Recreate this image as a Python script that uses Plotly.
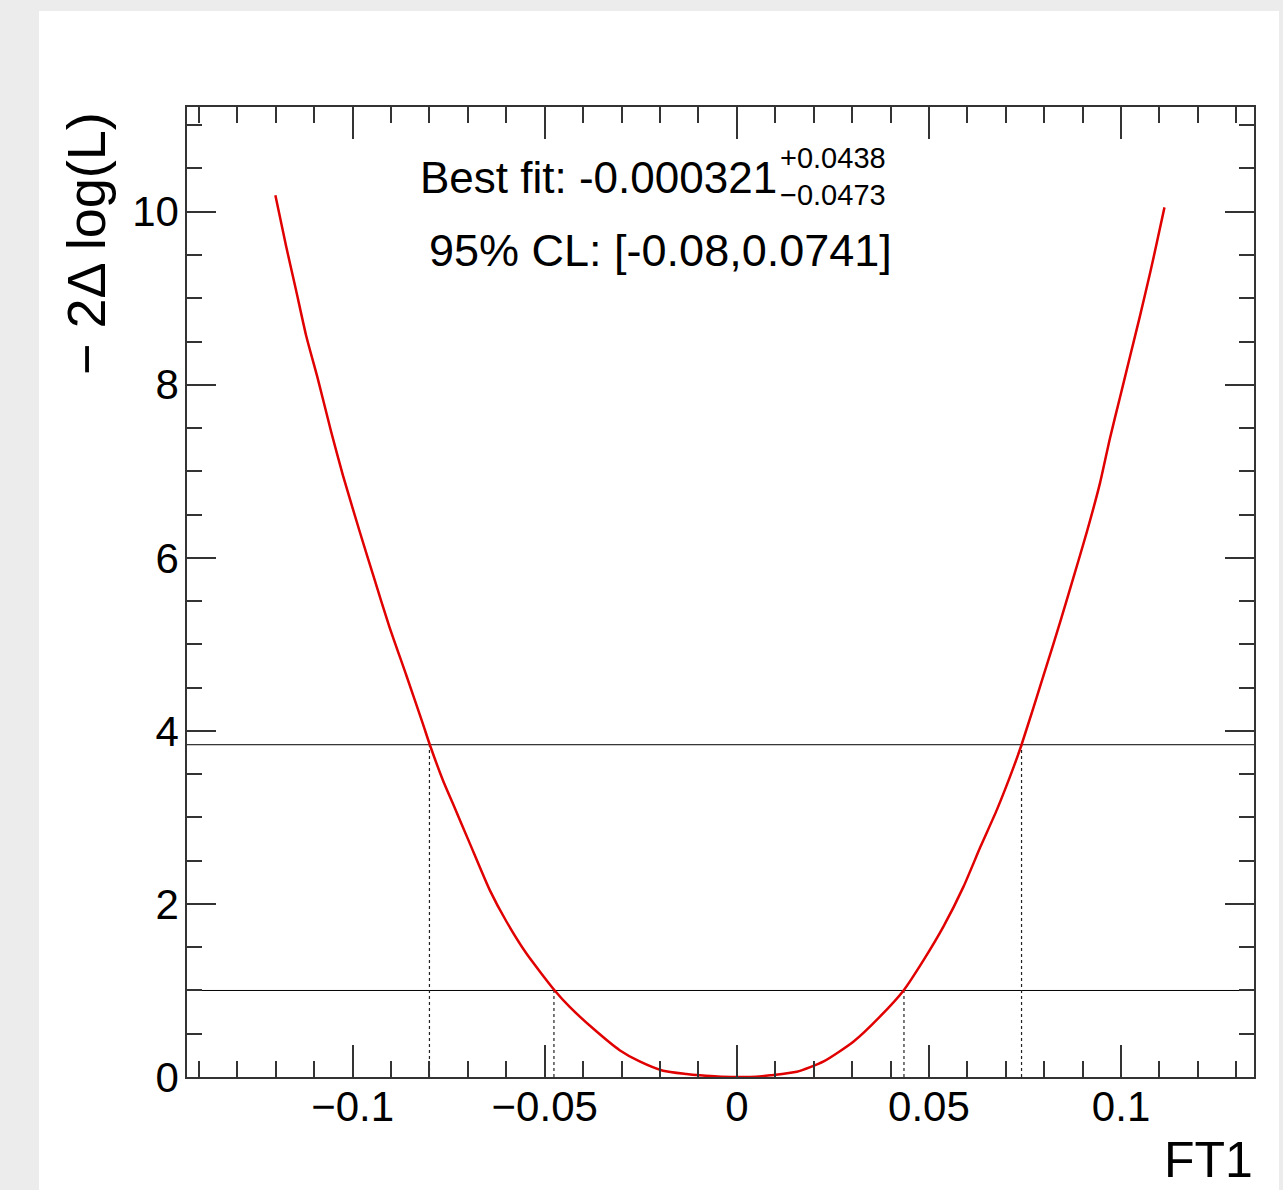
import plotly.graph_objects as go

# likelihood scan
scan_x = [-0.1201, -0.1173, -0.1147, -0.1121, -0.1090, -0.1056, -0.1025, -0.0982,
          -0.0943, -0.0904, -0.0860, -0.0817, -0.0799, -0.0765, -0.0739, -0.0695,
          -0.0643, -0.0600, -0.0548, -0.0474, -0.0435, -0.0374, -0.0305, -0.0253,
          -0.0192, -0.0131, -0.0096, -0.0050, 0.0000, 0.0050, 0.0087, 0.0156,
          0.0226, 0.0304, 0.0373, 0.0434, 0.0486, 0.0538, 0.0590, 0.0634,
          0.0677, 0.0721, 0.0741, 0.0772, 0.0806, 0.0841, 0.0876, 0.0911,
          0.0945, 0.0971, 0.0997, 0.1023, 0.1049, 0.1076, 0.1093, 0.1113]
scan_y = [10.19, 9.60, 9.09, 8.57, 8.06, 7.46, 6.95, 6.31,
          5.75, 5.20, 4.64, 4.08, 3.84, 3.43, 3.16, 2.70,
          2.16, 1.80, 1.43, 1.00, 0.81, 0.56, 0.31, 0.18,
          0.073, 0.035, 0.02, 0.005, 0.0, 0.003, 0.02, 0.061,
          0.18, 0.41, 0.70, 1.00, 1.35, 1.74, 2.20, 2.66,
          3.09, 3.59, 3.84, 4.27, 4.75, 5.25, 5.77, 6.30,
          6.86, 7.38, 7.85, 8.32, 8.79, 9.30, 9.64, 10.05]

cl_levels = [1.0, 3.84]
cl68 = [-0.0476, 0.0435]
cl95 = [-0.0800, 0.0741]

x_range = [-0.1431, 0.1346]
y_range = [0, 11.21]

best_fit = "-0.000321"
err_up = "+0.0438"
err_dn = "\u22120.0473"
cl_text = "95% CL: [-0.08,0.0741]"

W, H = 1283, 1190
L, R, T, B = 187, 1254, 107, 1077
FONT = "Liberation Sans, Arial, Helvetica, sans-serif"


def px(xp):
    return (xp - L) / (R - L)


def py(yp):
    return (B - yp) / (B - T)


fig = go.Figure()

# horizontal threshold lines
for lv in cl_levels:
    fig.add_trace(go.Scatter(x=x_range, y=[lv, lv], mode="lines",
                             line=dict(color="black", width=1), showlegend=False,
                             hoverinfo="skip"))

# dotted drop lines
for lv, pair in zip(cl_levels, [cl68, cl95]):
    for xv in pair:
        fig.add_trace(go.Scatter(x=[xv, xv], y=[0, lv], mode="lines",
                                 line=dict(color="#222", width=1.2, dash="3px,3px"),
                                 showlegend=False, hoverinfo="skip"))

fig.add_trace(go.Scatter(x=scan_x, y=scan_y, mode="lines",
                         line=dict(color="#e00000", width=2.5, shape="spline",
                                   smoothing=0.6),
                         showlegend=False))

axis_common = dict(showgrid=False, zeroline=False, showline=True, linecolor="#333",
                   linewidth=1.5, mirror="ticks", ticks="inside", tickcolor="#333",
                   tickwidth=1.5, tickfont=dict(family=FONT, size=42, color="black"))

fig.update_xaxes(range=x_range, tick0=0, dtick=0.05, ticklen=32,
                 tickvals=[-0.1, -0.05, 0, 0.05, 0.1],
                 ticktext=["\u22120.1", "\u22120.05", "0", "0.05", "0.1"],
                 minor=dict(dtick=0.01, tick0=0, ticklen=16, ticks="inside",
                            tickcolor="#333", tickwidth=1.5),
                 ticklabelstandoff=-8, **axis_common)
fig.update_yaxes(range=y_range, tick0=0, dtick=2, ticklen=29,
                 minor=dict(dtick=0.5, tick0=0, ticklen=15, ticks="inside",
                            tickcolor="#333", tickwidth=1.5),
                 ticklabelstandoff=-2, **axis_common)

annos = [
    dict(x=px(779), y=py(178), text="Best fit: " + best_fit, xanchor="right",
         yanchor="middle", font=dict(size=44)),
    dict(x=px(778), y=py(158), text=err_up, xanchor="left", yanchor="middle",
         font=dict(size=29)),
    dict(x=px(778), y=py(195), text=err_dn, xanchor="left", yanchor="middle",
         font=dict(size=29)),
    dict(x=px(660), y=py(250), text=cl_text, xanchor="center", yanchor="middle",
         font=dict(size=45)),
    dict(x=px(86), y=py(244), text="\u2212 2\u0394 log(L)", textangle=-90,
         xanchor="center", yanchor="middle", font=dict(size=54)),
    dict(x=px(1255), y=py(1160), text="FT1", xanchor="right", yanchor="middle",
         font=dict(size=50)),
]
for a in annos:
    a.update(xref="paper", yref="paper", showarrow=False)
    a["font"].update(family=FONT, color="black")
    fig.add_annotation(**a)

# white canvas inside the grey window border
fig.add_shape(type="rect", xref="paper", yref="paper", x0=px(39), x1=px(1279),
              y0=py(11), y1=py(1195), fillcolor="white", line_width=0, layer="below")

fig.update_layout(width=W, height=H, margin=dict(l=L, r=W - R, t=T, b=H - B),
                  paper_bgcolor="#ececec", plot_bgcolor="white",
                  font=dict(family=FONT))

fig.write_html("out.html", config={"displayModeBar": False},
               post_script="document.body.style.margin='0px';")
